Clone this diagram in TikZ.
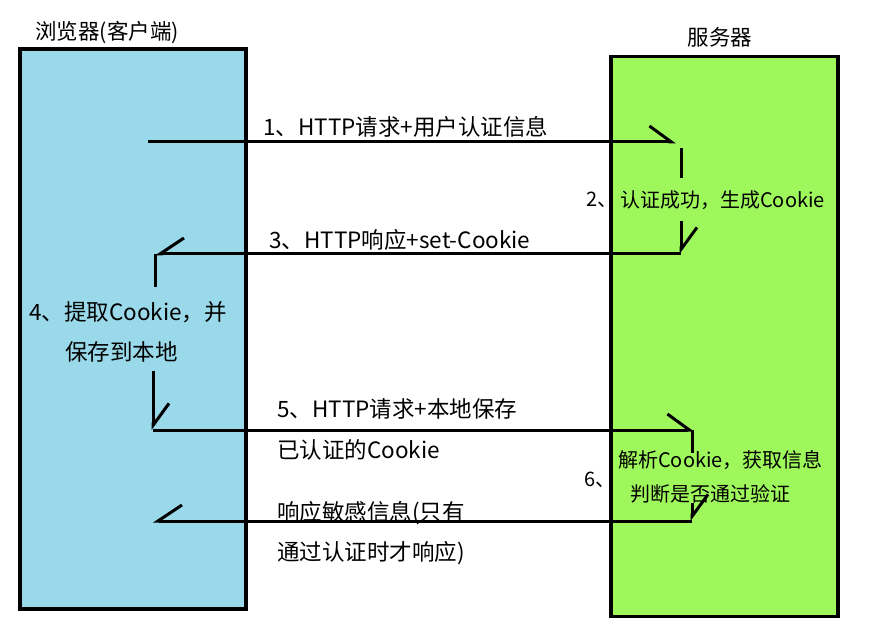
\documentclass[tikz,border=0pt]{standalone}
\usepackage{fontspec}
\setmainfont{Noto Sans CJK SC}
\usetikzlibrary{arrows.meta}
\definecolor{figclient}{HTML}{99D9EA}
\definecolor{figserver}{HTML}{9EF85C}
\tikzset{
  figbox/.style={draw=black, line width=3.5pt, anchor=north west, inner sep=0pt, outer sep=0pt},
  figtitle/.style={inner sep=0pt, font=\fontsize{21.5}{25}\selectfont},
  figlabel/.style={anchor=west, inner sep=0pt, font=\fontsize{22.5}{26}\selectfont},
  figsmall/.style={anchor=west, inner sep=0pt, font=\fontsize{20}{24}\selectfont},
  figflow/.style={draw=black, line width=3pt},
  figbarb/.style={figflow, -{Straight Barb[harpoon, length=22pt, width=32pt]}},
  figbarbswap/.style={figflow, -{Straight Barb[harpoon, swap, length=24pt, width=32pt]}}
}
\begin{document}
\begin{tikzpicture}[x=1pt,y=-1pt]
  \useasboundingbox[fill=white] (0,0) rectangle (876,636);
  % heights of the exchanges
  \def\ya{142} \def\yb{254} \def\yc{430} \def\yd{521}
  % the two parties
  \node[figbox,fill=figclient,minimum width=226pt,minimum height=560pt] (client) at (20,49) {};
  \node[figbox,fill=figserver,minimum width=227pt,minimum height=560pt] (server) at (611,56.5) {};
  \node[figtitle] (clienttitle) at (107,32) {浏览器(客户端)};
  \node[figtitle] (servertitle) at (720,37) {服务器};
  % step texts
  \node[figlabel] (req1) at (263,127) {1、HTTP请求+用户认证信息};
  \node[figsmall,anchor=east] (step2) at (618,200) {2、};
  \node[figsmall] (auth2) at (620,200) {认证成功，生成Cookie};
  \node[figlabel] (resp3) at (269,240) {3、HTTP响应+set-Cookie};
  \node[figlabel] (keep4a) at (29,312) {4、提取Cookie，并};
  \node[figlabel] (keep4b) at (65,352) {保存到本地};
  \node[figlabel] (req5a) at (277,409) {5、HTTP请求+本地保存};
  \node[figlabel] (req5b) at (277,450) {已认证的Cookie};
  \node[figsmall,anchor=east] (step6) at (616,480) {6、};
  \node[figsmall] (check6a) at (618,460) {解析Cookie，获取信息};
  \node[figsmall] (check6b) at (630,494) {判断是否通过验证};
  \node[figlabel] (resp7a) at (277,513) {响应敏感信息(只有};
  \node[figlabel] (resp7b) at (277,553) {通过认证时才响应)};
  % turning points of the flow
  \coordinate (p1a) at (148,\ya);  \coordinate (p1b) at (676,\ya);
  \coordinate (p2a) at (681,148);  \coordinate (p2b) at (681,178);
  \coordinate (p2c) at (681,221);  \coordinate (p2d) at (681,\yb);
  \coordinate (p3b) at (155,\yb);  \coordinate (p4a) at (155,287);
  \coordinate (p4b) at (153,371);  \coordinate (p4c) at (153,\yc);
  \coordinate (p5b) at (694,\yc);  \coordinate (p6a) at (692,\yc);
  \coordinate (p6b) at (692,453);  \coordinate (p6c) at (692,503);
  \coordinate (p6d) at (692,\yd);  \coordinate (p7b) at (153,\yd);
  % flow
  \draw[figbarb] (p1a) -- (p1b);
  \draw[figflow] (p2a) -- (p2b);
  \draw[figbarb] (p2c) -- (p2d);
  \draw[figbarbswap] (p2d) -- (p3b);
  \draw[figflow] (p3b) -- (p4a);
  \draw[figbarb] (p4b) -- (p4c);
  \draw[figbarb] (p4c) -- (p5b);
  \draw[figflow] (p6a) -- (p6b);
  \draw[figbarb] (p6c) -- (p6d);
  \draw[figbarbswap] (p6d) -- (p7b);
\end{tikzpicture}
\end{document}
